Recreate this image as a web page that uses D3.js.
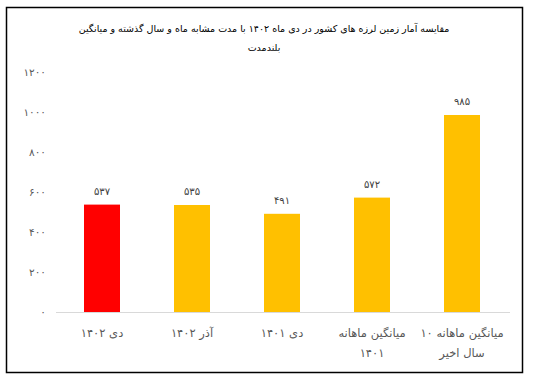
<!DOCTYPE html>
<html>
<meta charset="utf-8">
<title>Earthquake comparison</title>
<style>
	body {
		margin: 0;
		background: #fff;
	}

	text {
		font-family: "DejaVu Sans", sans-serif;
	}
</style>

<body>
	<div id="chart"></div>
	<script src="https://cdn.jsdelivr.net/npm/d3@7"></script>
	<script>
		var categories = [
			["دی ۱۴۰۲"],
			["آذر ۱۴۰۲"],
			["دی ۱۴۰۱"],
			["میانگین ماهانه", "۱۴۰۱"],
			["میانگین ماهانه ۱۰", "سال اخیر"]
		];
		var values = [537, 535, 491, 572, 985];
		var colors = ["#ff0000", "#ffc000", "#ffc000", "#ffc000", "#ffc000"];
		var yTicks = [0, 200, 400, 600, 800, 1000, 1200];
		var titleLines = [
			"مقایسه آمار زمین لرزه های کشور در دی ماه ۱۴۰۲ با مدت مشابه ماه و سال گذشته و میانگین",
			"بلندمدت"
		];

		var width = 533,
			height = 385;

		// latin digits -> persian digits
		var fa = function (n) {
			return String(n).replace(/\d/g, function (c) {
				return "۰۱۲۳۴۵۶۷۸۹"[+c];
			});
		};

		var svg = d3.select("#chart").append("svg")
			.attr("width", width)
			.attr("height", height);

		svg.append("rect")
			.attr("x", 6.5)
			.attr("y", 7.5)
			.attr("width", 516)
			.attr("height", 365)
			.attr("fill", "#fff")
			.attr("stroke", "#000")
			.attr("stroke-width", 1.5);

		svg.selectAll(".title")
			.data(titleLines)
			.enter().append("text")
			.attr("class", "title")
			.attr("x", 264)
			.attr("y", function (d, i) { return 32 + i * 19; })
			.attr("text-anchor", "middle")
			.attr("font-size", 9.5)
			.attr("fill", "#000")
			.text(function (d) { return d; });

		var x = d3.scaleBand()
			.domain(d3.range(values.length))
			.range([57, 507])
			.paddingInner(0.6)
			.paddingOuter(0.3);

		var y = d3.scaleLinear()
			.domain([0, 1200])
			.range([312, 72]);

		var yAxis = svg.append("g")
			.attr("transform", "translate(46,0)")
			.call(d3.axisLeft(y).tickValues(yTicks).tickSize(0).tickPadding(0).tickFormat(fa));
		yAxis.select(".domain").remove();
		yAxis.selectAll("text")
			.attr("font-size", 10.5)
			.attr("fill", "#595959")
			.style("font-family", "DejaVu Sans, sans-serif");

		svg.append("line")
			.attr("x1", 56)
			.attr("x2", 510)
			.attr("y1", y(0) + 0.5)
			.attr("y2", y(0) + 0.5)
			.attr("stroke", "#d9d9d9")
			.attr("stroke-width", 1);

		svg.selectAll(".bar")
			.data(values)
			.enter().append("rect")
			.attr("class", "bar")
			.attr("x", function (d, i) { return x(i); })
			.attr("y", function (d) { return y(d); })
			.attr("width", x.bandwidth())
			.attr("height", function (d) { return y(0) - y(d); })
			.attr("fill", function (d, i) { return colors[i]; });

		svg.selectAll(".val")
			.data(values)
			.enter().append("text")
			.attr("class", "val")
			.attr("x", function (d, i) { return x(i) + x.bandwidth() / 2; })
			.attr("y", function (d) { return y(d) - 10; })
			.attr("text-anchor", "middle")
			.attr("font-size", 10)
			.attr("fill", "#404040")
			.text(function (d) { return fa(d); });

		var cat = svg.selectAll(".cat")
			.data(categories)
			.enter().append("text")
			.attr("class", "cat")
			.attr("text-anchor", "middle")
			.attr("font-size", 11.5)
			.attr("fill", "#595959");

		cat.selectAll("tspan")
			.data(function (d, i) {
				return d.map(function (t) { return { t: t, i: i }; });
			})
			.enter().append("tspan")
			.attr("x", function (d) { return x(d.i) + x.bandwidth() / 2; })
			.attr("y", function (d, j) { return 337 + j * 20; })
			.text(function (d) { return d.t; });
	</script>
</body>

</html>
